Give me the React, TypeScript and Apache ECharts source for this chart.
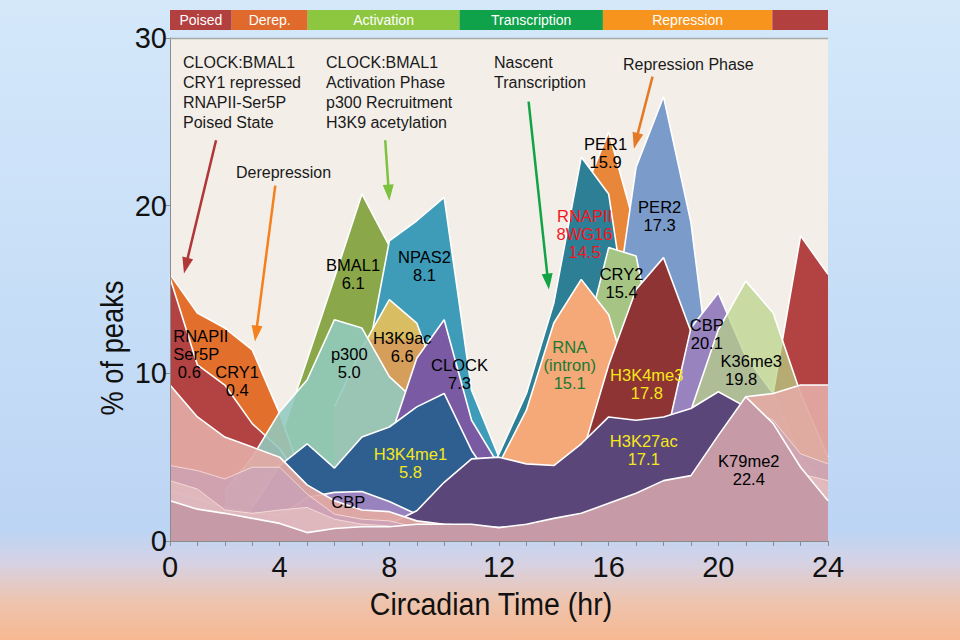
import React, { useEffect, useRef } from "react";
import * as echarts from "echarts";

// ---------- data ----------
const HOURS = [0, 1, 2, 3, 4, 5, 6, 7, 8, 9, 10, 11, 12, 13, 14, 15, 16, 17, 18, 19, 20, 21, 22, 23, 24];
const n = null;

const PER1 = [n, n, n, n, n, n, n, n, n, n, n, n, n, n, 12, 20.4, 24.4, 18.5, 8, n, n, n, n, n, n];
const BMAL1 = [n, n, n, n, 6.0, 10.8, 15.7, 20.7, 17.6, 10, 5, n, n, n, n, n, n, n, n, n, n, n, n, n, n];
const NPAS2 = [n, n, n, n, n, n, n, 9.2, 17.9, 19.1, 20.5, 9.0, 5.0, 2, n, n, n, n, n, n, n, n, n, n, n];
const RNAPII_8WG16 = [n, n, n, n, n, n, n, n, n, n, n, 2, 5.2, 8.8, 14.2, 22.9, 20.7, 9.8, 4, n, n, n, n, n, n];
const PER2 = [n, n, n, n, n, n, n, n, n, n, n, n, n, n, n, 5, 11, 22.3, 26.5, 19.0, 6, 2, n, n, n];
const CRY2 = [n, n, n, n, n, n, n, n, n, n, n, n, n, n, 4, 11, 17.5, 17.0, 9, 3, n, n, n, n, n];
const RNA_INTRON = [n, n, n, n, n, n, n, n, n, n, n, 2, 4.6, 7.8, 13.0, 15.6, 13.5, 8, 3, n, n, n, n, n, n];
const H3K4ME3 = [n, n, n, n, n, n, n, n, n, n, n, n, n, n, 2, 5.0, 10.5, 15.0, 16.9, 12.5, 6, 2, n, n, n];
const CRY1 = [15.9, 13.6, 12.7, 11.4, 7.6, 3, n, n, n, n, n, n, n, n, n, n, n, n, n, n, n, n, n, n, n];
const RNAPII_SER5P = [15.7, 10.5, 9.3, 7.0, 5.5, 3, n, n, n, n, n, n, n, n, n, n, n, n, n, n, n, 4, 8.8, 18.2, 15.9];
const H3K9AC = [n, n, n, n, n, n, 8, 11.5, 14.4, 13.0, 8.5, 4, n, n, n, n, n, n, n, n, n, n, n, n, n];
const P300 = [n, n, 3, 5.0, 7.7, 9.6, 13.2, 12.7, 9.8, 8.3, 6, 3, n, n, n, n, n, n, n, n, n, n, n, n, n];
const CLOCK = [n, n, n, n, n, n, n, n, 6, 10.9, 13.2, 7.2, 4.5, n, n, n, n, n, n, n, n, n, n, n, n];
const H3K4ME1 = [n, n, n, 2, 4.5, 5.8, 4.35, 6.2, 6.8, 8.0, 8.8, 5.4, 3, n, n, n, n, n, n, n, n, n, n, n, n];
const CBP = [3.0, 2.5, 2.0, 1.7, 1.5, 2.6, 2.9, 2.95, 2.35, 1.6, 1.2, 1.0, 1.0, 1.0, 1.2, 1.5, 2.0, 3.5, 5.5, 12.7, 14.8, 11.0, 8.8, 5.0, 3.0];
const K36ME3 = [n, n, n, n, n, n, n, n, n, n, n, n, n, n, n, n, n, 2, 4, 7.8, 12.6, 15.5, 13.6, 8.8, 5];
const H3K27AC = [n, n, n, n, n, n, n, n, 1.0, 1.8, 3.5, 4.9, 5.0, 4.6, 4.5, 5.8, 7.4, 7.2, 7.4, 7.9, 8.9, 8.0, 5, n, n];
const LOW_LAYER_A = [9.3, 7.4, 6.2, 5.6, 5.0, 3.35, 2.4, 1.85, 1.75, 1.2, 1.0, 0.9, 0.8, 0.9, 1.2, 1.5, 2.0, 2.6, 3.2, 3.6, 5.5, 8.6, 8.8, 9.3, 9.3];
const LOW_LAYER_B = [4.5, 4.2, 3.7, 4.4, 4.4, 2.8, 1.6, 1.3, 1.2, 0.8, n, n, n, n, n, n, n, n, n, n, 4.5, 8.0, 7.2, 5.2, 4.6];
const LOW_LAYER_C = [3.6, 3.1, 1.85, 1.65, 1.85, 2.0, 1.3, 1.0, 0.9, n, n, n, n, n, n, n, n, n, n, n, n, 6.0, 5.5, 4.0, 3.6];
const K79ME2 = [2.4, 1.9, 1.65, 1.35, 1.05, 0.5, 0.75, 0.85, 0.85, 1.0, 1.0, 1.0, 0.8, 1.0, 1.35, 1.65, 2.25, 2.85, 3.6, 3.9, 6.3, 8.6, 7.0, 4.4, 2.4];

const X_TICKS = [0, 4, 8, 12, 16, 20, 24];
const Y_TICKS = [0, 10, 20, 30];

// phase bar
const PHASE_NAMES = ["Poised", "Derep.", "Activation", "Transcription", "Repression", ""];
const PHASE_START = [0, 2.25, 5.02, 10.56, 15.79, 21.97];
const PHASE_END = [2.25, 5.02, 10.56, 15.79, 21.97, 24];
const PHASE_COLORS = ["#b2403f", "#e06a2c", "#8dc63f", "#0fa24a", "#f7941d", "#b2403f"];

// in-plot labels
const LABEL_TEXT = [
  "RNAPII\nSer5P\n 0.6", "CRY1\n0.4", "BMAL1\n6.1", "NPAS2\n8.1", "p300\n5.0", "H3K9ac\n6.6",
  "CLOCK\n7.3", "H3K4me1\n5.8", "CBP", "RNAPII\n8WG16\n14.5", "PER1\n15.9", "PER2\n17.3",
  "CRY2\n15.4", "RNA\n(intron)\n15.1", "H3K4me3\n17.8", "CBP\n20.1", "K36me3\n 19.8", "H3K27ac\n17.1", "K79me2\n22.4",
];
const LABEL_T = [0.12, 2.45, 6.68, 9.28, 6.54, 8.47, 10.56, 8.77, 6.5, 15.12, 15.89, 17.86, 16.47, 14.58, 17.39, 19.58, 20.08, 17.28, 21.11];
const LABEL_V = [11.15, 9.54, 15.92, 16.4, 10.61, 11.57, 9.96, 4.65, 2.33, 18.3, 23.17, 19.38, 15.38, 10.49, 9.36, 12.37, 10.2, 5.4, 4.23];
const LABEL_ALIGN = [
  "left", "center", "center", "center", "center", "center", "center", "center", "center", "center",
  "center", "center", "center", "center", "center", "center", "left", "center", "center",
];
const LABEL_COLOR = [
  "#000000", "#000000", "#000000", "#000000", "#000000", "#000000", "#000000", "#f5e81a", "#000000",
  "#f5141e", "#000000", "#000000", "#000000", "#1a7a32", "#f5e81a", "#000000", "#000000", "#f5e81a", "#000000",
];

// arrows (from -> to, in axis units)
const ARROW_FROM_T = [1.68, 3.84, 7.85, 13.08, 17.6];
const ARROW_FROM_V = [23.9, 21.2, 23.9, 26.2, 27.7];
const ARROW_TO_T = [0.51, 3.1, 8.0, 13.82, 16.92];
const ARROW_TO_V = [15.96, 11.9, 20.3, 15.0, 23.4];
const ARROW_COLOR = ["#b13636", "#f5801e", "#7cc23e", "#12a345", "#e47a26"];

const FONT = '"Liberation Sans", Arial, Helvetica, sans-serif';

export default function App() {
  const ref = useRef<HTMLDivElement>(null);

  useEffect(() => {
    if (!ref.current) return;
    const chart = echarts.init(ref.current, null, { renderer: "svg" });

    const h3k9Grad = new echarts.graphic.LinearGradient(0, 0, 0, 1, [
      { offset: 0, color: "#d9bd62" },
      { offset: 0.16, color: "#d9bd62" },
      { offset: 0.17, color: "#d59e5a" },
      { offset: 1, color: "#d59e5a" },
    ]);

    const layers: any[] = [
      { name: "PER1", v: PER1, fill: "#e8873a" },
      { name: "BMAL1", v: BMAL1, fill: "#8aa84a" },
      { name: "NPAS2", v: NPAS2, fill: "#3e9cb9" },
      { name: "RNAPII 8WG16", v: RNAPII_8WG16, fill: "#2d7f96" },
      { name: "PER2", v: PER2, fill: "#7b9bcb" },
      { name: "CRY2", v: CRY2, fill: "#a6c585" },
      { name: "RNA (intron)", v: RNA_INTRON, fill: "#f5a878" },
      { name: "H3K4me3", v: H3K4ME3, fill: "#8e3434" },
      { name: "CRY1", v: CRY1, fill: "#e2702c" },
      { name: "RNAPII Ser5P", v: RNAPII_SER5P, fill: "#b34343" },
      { name: "H3K9ac", v: H3K9AC, fill: h3k9Grad },
      { name: "p300", v: P300, fill: "#92c9bf", op: 0.88 },
      { name: "CLOCK", v: CLOCK, fill: "#7a5aa2" },
      { name: "H3K4me1", v: H3K4ME1, fill: "#2f5e90" },
      { name: "CBP", v: CBP, fill: "#9883bf" },
      { name: "K36me3", v: K36ME3, fill: "#b8d488", op: 0.72 },
      { name: "H3K27ac", v: H3K27AC, fill: "#5b4679" },
      { name: "Low layer A", v: LOW_LAYER_A, fill: "#e2aaa4", op: 0.93 },
      { name: "Low layer B", v: LOW_LAYER_B, fill: "rgb(190,160,200)", op: 0.45, line: "rgba(255,235,230,0.7)", lw: 1 },
      { name: "Low layer C", v: LOW_LAYER_C, fill: "rgb(240,205,200)", op: 0.5, line: "rgba(255,235,230,0.7)", lw: 1 },
      { name: "K79me2", v: K79ME2, fill: "#c69aa7" },
    ];

    const areaSeries = layers.map((l, i) => ({
      type: "line",
      name: l.name,
      xAxisIndex: 0,
      yAxisIndex: 0,
      z: 2 + i,
      data: HOURS.map((h, k) => [h, l.v[k] == null ? "-" : l.v[k]]),
      symbol: "none",
      showSymbol: false,
      connectNulls: false,
      silent: true,
      lineStyle: { color: l.line ?? "#ffffff", width: l.lw ?? 1.6 },
      areaStyle: { color: l.fill, opacity: l.op ?? 1 },
    }));

    // retract arrow ends so the triangle tip lands on the target
    const pxPerT = 658 / 24;
    const pxPerV = 503 / 30;
    const arrowData = ARROW_FROM_T.map((_, i) => {
      const dx = (ARROW_TO_T[i] - ARROW_FROM_T[i]) * pxPerT;
      const dy = (ARROW_TO_V[i] - ARROW_FROM_V[i]) * pxPerV;
      const len = Math.sqrt(dx * dx + dy * dy);
      const k = 8 / len;
      return [
        { coord: [ARROW_FROM_T[i], ARROW_FROM_V[i]], lineStyle: { color: ARROW_COLOR[i] } },
        { coord: [ARROW_TO_T[i] - (dx * k) / pxPerT, ARROW_TO_V[i] - (dy * k) / pxPerV] },
      ];
    });

    const labelSeries = {
      type: "scatter",
      name: "labels",
      xAxisIndex: 0,
      yAxisIndex: 0,
      z: 60,
      symbolSize: 1,
      silent: true,
      itemStyle: { color: "rgba(0,0,0,0)" },
      data: LABEL_TEXT.map((t, i) => ({
        value: [LABEL_T[i], LABEL_V[i]],
        label: { color: LABEL_COLOR[i], align: LABEL_ALIGN[i] },
      })),
      label: {
        show: true,
        position: "inside",
        fontFamily: FONT,
        fontSize: 16.5,
        lineHeight: 18,
        align: "center",
        verticalAlign: "middle",
        textBorderWidth: 0,
        textBorderColor: "transparent",
        opacity: 1,
        formatter: (p: any) => LABEL_TEXT[p.dataIndex],
      },
      markLine: {
        silent: true,
        animation: false,
        symbol: ["none", "triangle"],
        symbolSize: [11, 16],
        label: { show: false },
        lineStyle: { width: 2.5, type: "solid" },
        data: arrowData,
      },
    };

    const phaseSeries = {
      type: "custom",
      name: "phases",
      xAxisIndex: 1,
      yAxisIndex: 1,
      silent: true,
      data: PHASE_NAMES.map((_, i) => [PHASE_START[i], PHASE_END[i], i]),
      renderItem: (params: any, api: any) => {
        const i = api.value(2);
        const p0 = api.coord([api.value(0), 1]);
        const p1 = api.coord([api.value(1), 0]);
        return {
          type: "group",
          children: [
            {
              type: "rect",
              shape: { x: p0[0], y: p0[1], width: p1[0] - p0[0], height: p1[1] - p0[1] },
              style: { fill: PHASE_COLORS[i] },
            },
            {
              type: "text",
              x: (p0[0] + p1[0]) / 2,
              y: (p0[1] + p1[1]) / 2,
              style: {
                text: PHASE_NAMES[i],
                fill: "#ffffff",
                font: `14px ${FONT}`,
                align: "center",
                verticalAlign: "middle",
                textAlign: "center",
                textVerticalAlign: "middle",
              },
            },
          ],
        };
      },
    };

    const annot = (text: string, x: number, y: number, va: string = "top") => ({
      type: "text",
      x,
      y,
      z: 100,
      style: {
        text,
        fill: "#1a1a1a",
        font: `16px ${FONT}`,
        lineHeight: 20,
        align: "left",
        verticalAlign: va,
      },
    });

    chart.setOption({
      animation: false,
      backgroundColor: "transparent",
      grid: [
        { left: 170, right: 132, top: 38, bottom: 99, show: true, backgroundColor: "#f3eee8", borderWidth: 0 },
        { left: 170, right: 132, top: 10, height: 20 },
      ],
      xAxis: [
        {
          type: "value",
          gridIndex: 0,
          min: 0,
          max: 24,
          interval: 4,
          z: 80,
          axisLine: { show: true, lineStyle: { color: "#8c8c8c", width: 1 } },
          axisTick: { show: true, length: 5, lineStyle: { color: "#8c8c8c" } },
          minorTick: { show: true, splitNumber: 4, length: 5, lineStyle: { color: "#8c8c8c" } },
          splitLine: { show: false },
          axisLabel: {
            color: "#111",
            fontFamily: FONT,
            fontSize: 29,
            margin: 11,
            formatter: (v: number) => (X_TICKS.includes(v) ? String(v) : ""),
          },
        },
        { type: "value", gridIndex: 1, min: 0, max: 24, show: false },
      ],
      yAxis: [
        {
          type: "value",
          gridIndex: 0,
          min: 0,
          max: 30,
          interval: 10,
          z: 80,
          axisLine: { show: true, lineStyle: { color: "#8c8c8c", width: 1 } },
          axisTick: { show: true, length: 5, lineStyle: { color: "#8c8c8c" } },
          splitLine: { show: false },
          axisLabel: {
            color: "#111",
            fontFamily: FONT,
            fontSize: 29,
            margin: 3,
            formatter: (v: number) => (Y_TICKS.includes(v) ? String(v) : ""),
          },
        },
        { type: "value", gridIndex: 1, min: 0, max: 1, show: false },
      ],
      graphic: [
        {
          type: "line",
          shape: { x1: 170, y1: 38.5, x2: 828, y2: 38.5 },
          style: { stroke: "#a8a8a8", lineWidth: 1.5 },
          z: 100,
        },
        {
          type: "text",
          x: 112,
          y: 348,
          rotation: Math.PI / 2,
          scaleX: 0.88,
          style: {
            text: "% of peaks",
            fill: "#111",
            font: `31px ${FONT}`,
            align: "center",
            verticalAlign: "middle",
          },
        },
        {
          type: "text",
          x: 491,
          y: 604,
          scaleX: 0.92,
          style: {
            text: "Circadian Time (hr)",
            fill: "#111",
            font: `31px ${FONT}`,
            align: "center",
            verticalAlign: "middle",
          },
        },
        annot("CLOCK:BMAL1\nCRY1 repressed\nRNAPII-Ser5P\nPoised State", 183, 52),
        annot("CLOCK:BMAL1\nActivation Phase\np300 Recruitment\nH3K9 acetylation", 326, 52),
        annot("Derepression", 236, 172, "middle"),
        annot("Nascent\nTranscription", 494, 52),
        annot("Repression Phase", 623, 64, "middle"),
      ],
      series: [...areaSeries, labelSeries, phaseSeries],
    });

    return () => chart.dispose();
  }, []);

  return (
    <div
      style={{
        position: "fixed",
        left: 0,
        top: 0,
        width: 960,
        height: 640,
        background:
          "linear-gradient(to bottom, #d4e8fa 0%, #c6ddf7 50%, #bdd5f4 83%, #d6d2e4 88%, #eec4ae 94%, #f7b892 100%)",
      }}
    >
      <div ref={ref} style={{ width: 960, height: 640 }} />
    </div>
  );
}
